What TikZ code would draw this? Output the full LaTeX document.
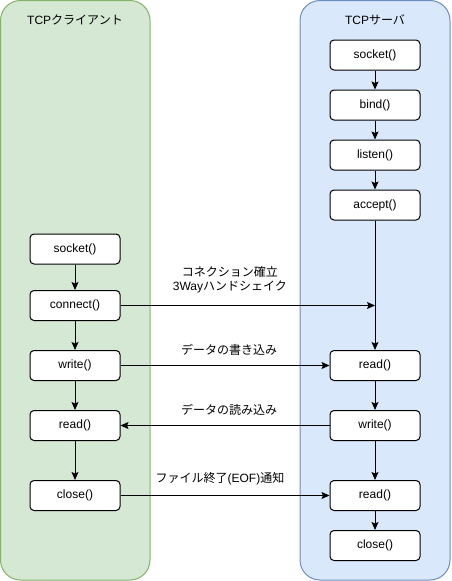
\documentclass[tikz,border=0pt]{standalone}
\usepackage{fontspec}
\setmainfont{Liberation Sans}
\newfontfamily\jp{Noto Sans CJK JP}
\usetikzlibrary{arrows.meta,positioning}

\definecolor{clientfill}{HTML}{D5E8D4}
\definecolor{clientline}{HTML}{82B366}
\definecolor{serverfill}{HTML}{DAE8FC}
\definecolor{serverline}{HTML}{6C8EBF}

\begin{document}
\begin{tikzpicture}[x=1pt,y=-1pt,line width=1pt,node distance=50pt,on grid,
	>={Stealth[length=8pt,width=7pt,inset=1.5pt]},
	func/.style={draw, rounded corners=4pt, fill=white, minimum width=90pt, minimum height=30pt, inner sep=0pt, font=\fontsize{12}{14}\selectfont},
	lane/.style={rounded corners=20pt},
	note/.style={above, inner sep=0pt, yshift=10pt, align=center, font=\fontsize{12}{14}\selectfont}]
	\useasboundingbox (0,0) rectangle (451,581);

	\draw [lane, draw=clientline, fill=clientfill] (0.5,0.5) rectangle (150,580);
	\draw [lane, draw=serverline, fill=serverfill] (300,0.5) rectangle (450,580);
	\node [font=\fontsize{12}{14}\selectfont] (ctitle) at (75,20) {TCP{\jp クライアント}};
	\node [font=\fontsize{12}{14}\selectfont] (stitle) at (375,20) {TCP{\jp サーバ}};

	\node [func] (ssock) at (375,55) {socket()};
	\node [func] (sbind) [below=of ssock] {bind()};
	\node [func] (slisten) [below=of sbind] {listen()};
	\node [func] (saccept) [below=of slisten] {accept()};

	\node [func] (csock) at (75,249) {socket()};
	\node [func] (cconn) [below=56.5pt of csock] {connect()};
	\node [func] (cwrite) [below=60pt of cconn] {write()};
	\node [func] (cread) [below=60pt of cwrite] {read()};
	\node [func] (cclose) [below=70pt of cread] {close()};

	\node [func] (sread) [right=300pt of cwrite] {read()};
	\node [func] (swrite) [right=300pt of cread] {write()};
	\node [func] (sreof) [right=300pt of cclose] {read()};
	\node [func] (sclose) [below=of sreof] {close()};
	\coordinate (cjoin) at (saccept |- cconn);

	\path[->]
		(ssock) edge (sbind)
		(sbind) edge (slisten)
		(slisten) edge (saccept)
		(saccept) edge (sread)
		(sread) edge (swrite)
		(swrite) edge (sreof)
		(sreof) edge (sclose)
		(csock) edge (cconn)
		(cconn) edge (cwrite)
		(cwrite) edge (cread)
		(cread) edge (cclose)
		(cconn) edge node [note, pos=0.43, yshift=2pt] {{\jp コネクション確立}\\3Way{\jp ハンドシェイク}} (cjoin)
		(cwrite) edge node [note, pos=0.52] {\jp データの書き込み} (sread)
		(swrite) edge node [note, pos=0.48] {\jp データの読み込み} (cread)
		(cclose) edge node [note, pos=0.476] {{\jp ファイル終了}(EOF){\jp 通知}} (sreof)
		;

\end{tikzpicture}
\end{document}
